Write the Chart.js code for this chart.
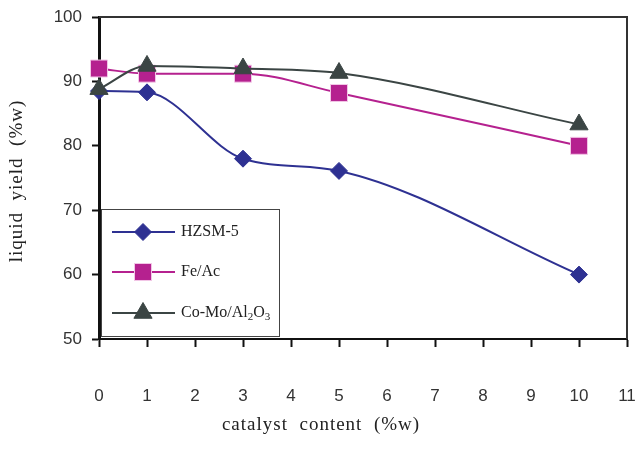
<!DOCTYPE html>
<html><head><meta charset="utf-8">
<script src="https://cdn.jsdelivr.net/npm/chart.js@4/dist/chart.umd.min.js"></script>
<style>html,body{margin:0;padding:0;background:#fff}#wrap{width:636px;height:462px;position:relative}</style>
</head><body><div id="wrap"><canvas id="c" width="636" height="462"></canvas></div>
<script>
const catalystContent = [0, 1, 3, 5, 10];
const hzsm5 = [88.5, 88.3, 78.0, 76.1, 60.0];
const feAc = [92.0, 91.2, 91.2, 88.2, 80.0];
const coMo = [88.8, 92.4, 92.0, 91.3, 83.3];
const seriesNames = ['HZSM-5', 'Fe/Ac', 'Co-Mo/Al2O3'];
const xTitle = 'catalyst  content  (%w)';
const yTitle = 'liquid  yield  (%w)';

const colors = ['#2e3192', '#b5218f', '#3b4544'];
const styles = ['rectRot', 'rect', 'triangle'];
const radii = [8.5, 12, 10.5];
const drawOrder = [2, 1, 0];

function pts(vals){ return catalystContent.map((x,i)=>({x:x,y:vals[i]})); }

const titlePlugin = {
  id:'titles',
  afterDraw(chart){
    const ctx=chart.ctx;
    ctx.save();
    const xs=chart.scales.x;
    ctx.fillStyle='#333';
    ctx.font='17px "Liberation Sans"';
    ctx.textAlign='center'; ctx.textBaseline='middle';
    xs.ticks.forEach(t=>{ ctx.fillText(String(t.value), xs.getPixelForValue(t.value), 396); });
    ctx.fillStyle='#222';
    ctx.font='19px "Liberation Serif"';
    ctx.letterSpacing='1px';
    ctx.fillText(xTitle, 321, 425);
    ctx.translate(17, 181);
    ctx.rotate(-Math.PI/2);
    ctx.fillText(yTitle, 0, 0);
    ctx.restore();
  }
};

const legendPlugin = {
  id:'customLegend',
  afterDraw(chart){
    const ctx = chart.ctx;
    ctx.save();
    const bx=101, by=209, bw=178, bh=127;
    ctx.fillStyle='#fff'; ctx.fillRect(bx,by,bw,bh);
    ctx.strokeStyle='#444'; ctx.lineWidth=1;
    ctx.strokeRect(bx+0.5,by+0.5,bw,bh);
    const ys=[232,272,313];
    chart.data.datasets.forEach((ds,i)=>{
      const y=ys[i];
      ctx.strokeStyle=ds.borderColor; ctx.lineWidth=2;
      ctx.beginPath(); ctx.moveTo(112,y); ctx.lineTo(175,y); ctx.stroke();
      ctx.fillStyle=ds.pointBackgroundColor; ctx.strokeStyle=ds.pointBorderColor; ctx.lineWidth=ds.pointBorderWidth;
      Chart.helpers.drawPoint(ctx,{pointStyle:ds.pointStyle,radius:ds.pointRadius,rotation:0,borderWidth:ds.pointBorderWidth},143,y);
      ctx.fillStyle='#222';
      ctx.font='16px "Liberation Serif"';
      ctx.textBaseline='middle'; ctx.textAlign='left';
      const name = seriesNames[i];
      if (name.indexOf('Al2O3')>=0){
        let x=181;
        const parts=[['Co-Mo/Al',0],['2',1],['O',0],['3',1]];
        parts.forEach(p=>{
          ctx.font = p[1] ? '11px "Liberation Serif"' : '16px "Liberation Serif"';
          ctx.fillText(p[0], x, y + (p[1]?4:0));
          x += ctx.measureText(p[0]).width;
        });
      } else {
        ctx.fillText(name,181,y);
      }
    });
    ctx.restore();
  }
};

const framePlugin = {
  id:'frame',
  beforeDatasetsDraw(chart){
    const a=chart.chartArea, ctx=chart.ctx;
    ctx.save();
    ctx.strokeStyle='#333'; ctx.lineWidth=2;
    ctx.beginPath();
    ctx.moveTo(a.left,a.top); ctx.lineTo(a.right,a.top); ctx.lineTo(a.right,a.bottom);
    ctx.stroke();
    ctx.restore();
  }
};

const datasets=[hzsm5,feAc,coMo].map((v,i)=>({
  label: seriesNames[i],
  data: pts(v),
  order: drawOrder[i],
  borderColor: colors[i],
  backgroundColor: colors[i],
  pointBackgroundColor: colors[i],
  pointBorderColor: i===1 ? '#f2c6e6' : colors[i],
  pointBorderWidth: 1,
  pointStyle: styles[i],
  pointRadius: radii[i],
  pointHoverRadius: radii[i],
  borderWidth: 2,
  cubicInterpolationMode: 'monotone',
  clip: false
}));

new Chart(document.getElementById('c'),{
  type:'line',
  data:{datasets:datasets},
  options:{
    responsive:false, animation:false, devicePixelRatio:1,
    layout:{autoPadding:false,padding:{top:17,right:9,left:0,bottom:0}},
    plugins:{legend:{display:false},tooltip:{enabled:false}},
    scales:{
      x:{type:'linear',min:0,max:11,
        ticks:{stepSize:1,display:false},
        grid:{drawOnChartArea:false,tickLength:8,tickColor:'#111',tickWidth:2},
        border:{color:'#111',width:2},
        title:{display:false},
        afterFit(s){ s.height=123; s.paddingLeft=0; s.paddingRight=0; }
      },
      y:{min:50,max:100,
        ticks:{stepSize:10,color:'#333',font:{family:'"Liberation Sans"',size:17},padding:10},
        grid:{drawOnChartArea:false,tickLength:7,tickColor:'#111',tickWidth:2},
        border:{color:'#111',width:3},
        title:{display:false},
        afterFit(s){ s.width=99; s.paddingTop=0; s.paddingBottom=0; }
      }
    }
  },
  plugins:[framePlugin,legendPlugin,titlePlugin]
});
</script></body></html>
